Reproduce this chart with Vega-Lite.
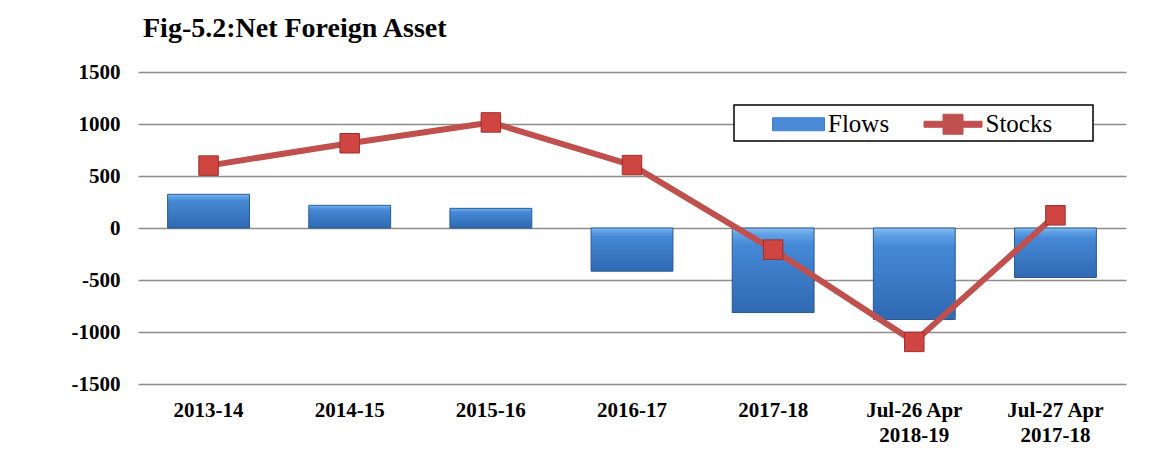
{
  "$schema": "https://vega.github.io/schema/vega-lite/v6.json",
  "autosize": {"type": "none"},
  "padding": {"left": 138, "top": 72, "right": 25, "bottom": 80},
  "width": 988,
  "height": 312,
  "background": "white",
  "title": {
    "text": "Fig-5.2:Net Foreign Asset",
    "anchor": "start",
    "frame": "group",
    "dx": 5,
    "offset": 18,
    "fontSize": 28,
    "fontWeight": "bold",
    "font": "Liberation Serif",
    "color": "black"
  },
  "config": {
    "font": "Liberation Serif",
    "view": {"stroke": null}
  },
  "data": {
    "values": [
      {"period": "2013-14", "flows": 324, "stocks": 600},
      {"period": "2014-15", "flows": 218, "stocks": 815},
      {"period": "2015-16", "flows": 189, "stocks": 1015},
      {"period": "2016-17", "flows": -415, "stocks": 605},
      {"period": "2017-18", "flows": -813, "stocks": -208},
      {"period": "Jul-26 Apr 2018-19", "flows": -880, "stocks": -1095},
      {"period": "Jul-27 Apr 2017-18", "flows": -476, "stocks": 122}
    ]
  },
  "encoding": {
    "x": {
      "field": "period",
      "type": "nominal",
      "sort": null,
      "title": null,
      "scale": {"paddingInner": 0.42, "paddingOuter": 0.21},
      "axis": {
        "domain": false,
        "ticks": false,
        "grid": false,
        "labelAngle": 0,
        "labelFont": "Liberation Serif",
        "labelFontWeight": "bold",
        "labelFontSize": 21,
        "labelColor": "black",
        "labelPadding": 15,
        "labelLineHeight": 25,
        "labelExpr": "indexof(datum.label, 'Apr ') > 0 ? [slice(datum.label, 0, 10), slice(datum.label, 11)] : datum.label"
      }
    }
  },
  "layer": [
    {
      "mark": {
        "type": "bar",
        "color": {
          "gradient": "linear",
          "x1": 0, "y1": 0, "x2": 0, "y2": 1,
          "stops": [
            {"offset": 0, "color": "#86C0F2"},
            {"offset": 0.07, "color": "#62A3E6"},
            {"offset": 0.2, "color": "#4589D6"},
            {"offset": 1, "color": "#3069B2"}
          ]
        },
        "stroke": "#2A5890",
        "strokeWidth": 1
      },
      "encoding": {
        "y": {
          "field": "flows",
          "type": "quantitative",
          "title": null,
          "scale": {"domain": [-1500, 1500], "nice": false},
          "axis": {
            "values": [-1500, -1000, -500, 0, 500, 1000, 1500],
            "labelExpr": "datum.value + ''",
            "domain": false,
            "ticks": false,
            "grid": true,
            "gridColor": "#8C8C8C",
            "gridWidth": 1.5,
            "labelFont": "Liberation Serif",
            "labelFontWeight": "bold",
            "labelFontSize": 21,
            "labelColor": "black",
            "labelPadding": 18
          }
        }
      }
    },
    {
      "mark": {"type": "line", "strokeWidth": 6, "strokeCap": "round", "strokeJoin": "round"},
      "encoding": {
        "y": {"field": "stocks", "type": "quantitative"},
        "color": {
          "datum": "Stocks",
          "type": "nominal",
          "scale": {"domain": ["Flows", "Stocks"], "range": ["#3F7FCC", "#C0504D"]},
          "legend": {
            "title": " ",
            "titleOrient": "right",
            "titleFontSize": 1,
            "titlePadding": 37,
            "orient": "none",
            "legendX": 596,
            "legendY": 33,
            "direction": "horizontal",
            "padding": 3.5,
            "strokeColor": "black",
            "fillColor": "white",
            "symbolSize": 900,
            "labelOffset": 59.5,
            "columnPadding": 5.5,
            "labelFont": "Liberation Serif",
            "labelFontSize": 25,
            "labelColor": "black",
            "encode": {
              "legend": {
                "update": {"strokeWidth": {"value": 1.5}}
              },
              "symbols": {
                "update": {
                  "shape": {"signal": "datum.value === 'Flows' ? 'M1.3,-0.433H4.767V0.433H1.3Z' : 'M0.9,-0.2H2.167V-0.667H3.5V-0.2H4.767V0.2H3.5V0.667H2.167V0.2H0.9Z'"},
                  "fill": {"signal": "datum.value === 'Flows' ? '#4A8AD6' : '#C0504D'"},
                  "stroke": {"signal": "datum.value === 'Flows' ? '#2A5890' : '#B0403D'"},
                  "strokeWidth": {"value": 1},
                  "opacity": {"value": 1},
                  "fillOpacity": {"value": 1}
                }
              }
            }
          }
        }
      }
    },
    {
      "mark": {"type": "point", "shape": "square", "filled": true, "size": 380, "fill": "#CF4541", "stroke": "#9E2F2C", "strokeWidth": 1, "opacity": 1},
      "encoding": {
        "y": {"field": "stocks", "type": "quantitative"}
      }
    }
  ]
}
